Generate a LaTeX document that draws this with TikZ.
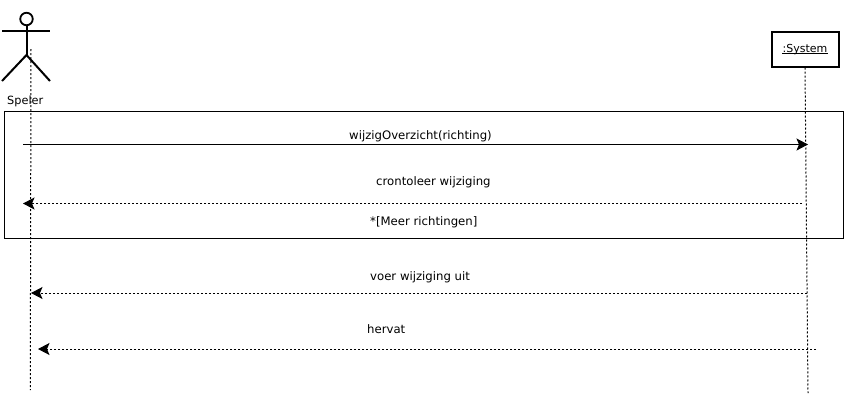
\documentclass[tikz,border=0pt]{standalone}
\usepackage{fontspec}
\setmainfont{DejaVu Sans}
\usetikzlibrary{arrows.meta}
\tikzset{
  x=1pt,y=-1pt,
  lbl/.style={inner sep=0pt,anchor=base west,font=\fontsize{11.7pt}{13pt}\selectfont},
  lifeline/.style={line width=1pt,dash pattern=on 2pt off 2pt},
  actorline/.style={line width=2pt},
  msg/.style={line width=1pt,-{Stealth[length=11.5pt,width=12pt,inset=2.5pt]}},
  retmsg/.style={msg,dash pattern=on 2pt off 2pt},
}
\begin{document}
\begin{tikzpicture}
\useasboundingbox (0,0) rectangle (845,408);
\fill[white] (0,0) rectangle (845,408);
% actor
\node[draw,circle,line width=1.8pt,minimum size=12.5pt,inner sep=0pt] (head) at (26.5,19) {};
\coordinate (hip) at (26.5,55);
\coordinate (armL) at (2,31);
\coordinate (armR) at (50,31);
\coordinate (footL) at (2,81);
\coordinate (footR) at (50,81);
\draw[actorline] (head.south) -- (hip);
\draw[actorline] (armL) -- (armR);
\draw[actorline] (footL) -- (hip) -- (footR);
\node[lbl,font=\fontsize{11.3pt}{13pt}\selectfont] (speler) at (7,104) {Speler};
% system
\node[draw,line width=2pt,minimum width=67pt,minimum height=35pt,inner sep=0pt] (sys) at (805,49) {};
\node[lbl,anchor=base,font=\fontsize{11pt}{13pt}\selectfont] (systxt) at (805,52) {:System};
\coordinate (ulL) at (systxt.west |- 0,53);
\coordinate (ulR) at (systxt.east |- 0,53);
\draw[line width=0.8pt] (ulL) -- (ulR);
% frame
\node[draw,line width=1pt,minimum width=838.5pt,minimum height=127pt,inner sep=0pt] (frame) at (423.75,174.5) {};
% lifelines
\coordinate (sTop) at (31,49);
\coordinate (sEnd) at (30.3,390);
\coordinate (yEnd) at (808,393);
\draw[lifeline] (sTop) -- (sEnd);
\draw[lifeline] (sys.south) -- (yEnd);
% messages
\coordinate (m1a) at (23,144.5);
\coordinate (m1b) at (808,144.5);
\coordinate (m2a) at (802,203.5);
\coordinate (m2b) at (23,203.5);
\coordinate (m3a) at (807,293);
\coordinate (m3b) at (31,293);
\coordinate (m4a) at (816,349);
\coordinate (m4b) at (38,349);
\draw[msg] (m1a) -- (m1b);
\draw[retmsg] (m2a) -- (m2b);
\draw[retmsg] (m3a) -- (m3b);
\draw[retmsg] (m4a) -- (m4b);
% labels
\node[lbl] (l1) at (349,139) {wijzigOverzicht(richting)};
\node[lbl] (l2) at (376,185) {crontoleer wijziging};
\node[lbl] (l3) at (370,225) {*[Meer richtingen]};
\node[lbl] (l4) at (370,280) {voer wijziging uit};
\node[lbl] (l5) at (367,333) {hervat};
\end{tikzpicture}
\end{document}
